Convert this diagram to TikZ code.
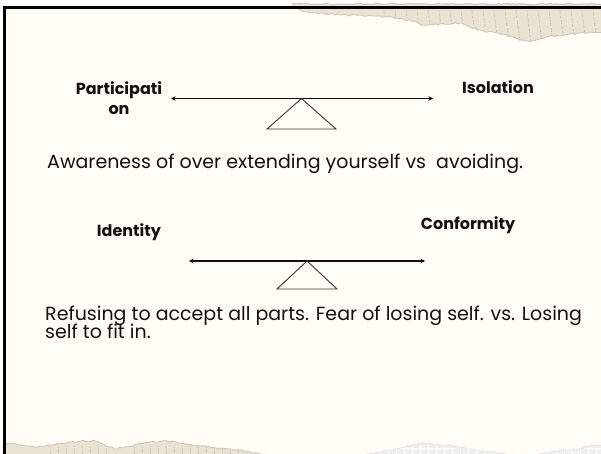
\documentclass[tikz,border=0pt]{standalone}
\usepackage{fontspec}
\setsansfont{Poppins}
\usetikzlibrary{arrows.meta,decorations.pathmorphing}

\definecolor{cream}{HTML}{FFFDF6}
\definecolor{paper}{HTML}{EAE3D2}
\definecolor{paperedge}{HTML}{C9C4BA}
\definecolor{gridpaper}{HTML}{EFEFEF}
\definecolor{ink}{HTML}{111111}

\tikzset{
  poletext/.style={font=\sffamily\bfseries\fontsize{16}{20}\selectfont, text=ink, align=center, inner sep=0pt},
  bodytext/.style={font=\sffamily\fontsize{19}{18}\selectfont, text=ink, inner sep=0pt, anchor=base west},
  lever/.style={{Stealth[length=4.5pt,width=4.5pt]}-{Stealth[length=4.5pt,width=4.5pt]}, line width=1.1pt, draw=ink},
  fulcrum/.style={draw=ink!85, line width=0.9pt, line join=miter},
  torn/.style={decorate, decoration={random steps, segment length=2.5pt, amplitude=0.9pt}},
  printmark/.style={draw=black!25, line width=0.8pt, dash pattern=on 2pt off 1pt on 1pt off 1.5pt on 3pt off 2pt},
}

\begin{document}
\begin{tikzpicture}[x=1pt,y=-1pt]
\useasboundingbox (0,0) rectangle (601,454);
\fill[white] (0,0) rectangle (601,454);
\fill[cream] (5,8) rectangle (601,454);

% torn printed paper, top right
\pgfmathsetseed{11}
\path[torn, fill=paper, draw=paperedge, line width=0.8pt]
  (292,4) -- (300,10) -- (310,13) -- (330,14) -- (347,15) -- (375,16) -- (397,18)
  -- (412,21) -- (423,25) -- (440,24) -- (460,23) -- (470,27) -- (480,30)
  -- (497,33) -- (513,37) -- (522,40) -- (530,42) -- (540,39) -- (547,37)
  -- (565,35) -- (580,33) -- (606,33) -- (606,4) -- cycle;
\begin{scope}
  \clip (300,9) -- (347,14) -- (397,17) -- (423,24) -- (460,22) -- (513,36)
    -- (530,41) -- (547,36) -- (606,32) -- (606,4) -- (300,4) -- cycle;
  \foreach \x/\s in {384/0,395/2,406/1,417/3,428/0,439/2,450/1,461/3,472/0,483/2,494/1,505/3,516/0,527/2,538/1,549/3,560/0,571/2,582/1,593/3}
    \draw[printmark, dash phase=\s pt] (\x,10) -- (\x+4,44);
\end{scope}

% torn printed paper, bottom left
\pgfmathsetseed{5}
\path[torn, fill=paper, draw=paperedge, line width=0.8pt]
  (2,460) -- (4,444) -- (8,443) -- (22,445) -- (38,447) -- (60,444) -- (80,441)
  -- (96,441) -- (105,445) -- (115,449) -- (138,444) -- (161,441) -- (176,442)
  -- (192,445) -- (210,447) -- (230,449) -- (250,452) -- (268,455) -- (285,456)
  -- (299,457) -- (303,460) -- cycle;
\begin{scope}
  \clip (6,444) -- (38,446) -- (80,440) -- (115,448) -- (161,440) -- (230,448)
    -- (299,456) -- (299,460) -- (6,460) -- cycle;
  \foreach \x/\s in {50/0,58/2,66/1,74/3,82/0,90/2,98/1,106/3,134/0,142/2,150/1,158/3,166/0,174/2,182/1,190/3,198/0,206/2,214/1,222/3,230/0,238/2}
    \draw[printmark, dash phase=\s pt] (\x,446) -- (\x+1,462);
\end{scope}

% torn squared paper, bottom right
\pgfmathsetseed{3}
\path[torn, fill=gridpaper, draw=black!12, line width=0.6pt]
  (298,460) -- (305,456) -- (318,458) -- (340,457) -- (364,455) -- (390,450)
  -- (422,443) -- (440,445) -- (460,447) -- (480,451) -- (498,453) -- (520,455)
  -- (537,455) -- (555,451) -- (575,449) -- (590,446) -- (606,445) -- (606,460) -- cycle;
\begin{scope}
  \clip (305,457) -- (364,456) -- (422,444) -- (498,454) -- (537,456)
    -- (575,450) -- (606,446) -- (606,460) -- (305,460) -- cycle;
  \foreach \x in {300,308,...,608}
    \draw[white, line width=0.5pt] (\x,440) -- (\x,460);
  \foreach \y in {440,448,...,456}
    \draw[white, line width=0.5pt] (300,\y) -- (606,\y);
\end{scope}

% frame bars
\fill[black] (5,6) rectangle (601,9.5);
\fill[black] (3,6.5) rectangle (6.3,454);

% first balance: participation vs isolation
\node[poletext] (part) at (119,98) {Participati\\on};
\node[poletext] (iso) at (498,87) {Isolation};
\coordinate (lever1l) at (171,98.5);
\coordinate (lever1r) at (433,98.5);
\coordinate (pivot1) at (301.5,98.5);
\draw[lever] (lever1l) -- (lever1r);
\draw[fulcrum] (pivot1) -- (267,129) -- (336,129) -- cycle;

\node[bodytext] (aware) at (47,168.5) {Awareness of over extending yourself vs\ \ avoiding.};

% second balance: identity vs conformity
\node[poletext] (ident) at (129,232) {Identity};
\node[poletext] (conf) at (468,225) {Conformity};
\coordinate (lever2l) at (189,261);
\coordinate (lever2r) at (425,261);
\coordinate (pivot2) at (307,261);
\draw[lever] (lever2l) -- (lever2r);
\draw[fulcrum] (pivot2) -- (277,289) -- (337,289) -- cycle;

\node[bodytext] (refuse1) at (45,320.5) {Refusing to accept all parts. Fear of losing self. vs. Losing};
\node[bodytext] (refuse2) at (45,338) {self to fit in.};
\end{tikzpicture}
\end{document}
